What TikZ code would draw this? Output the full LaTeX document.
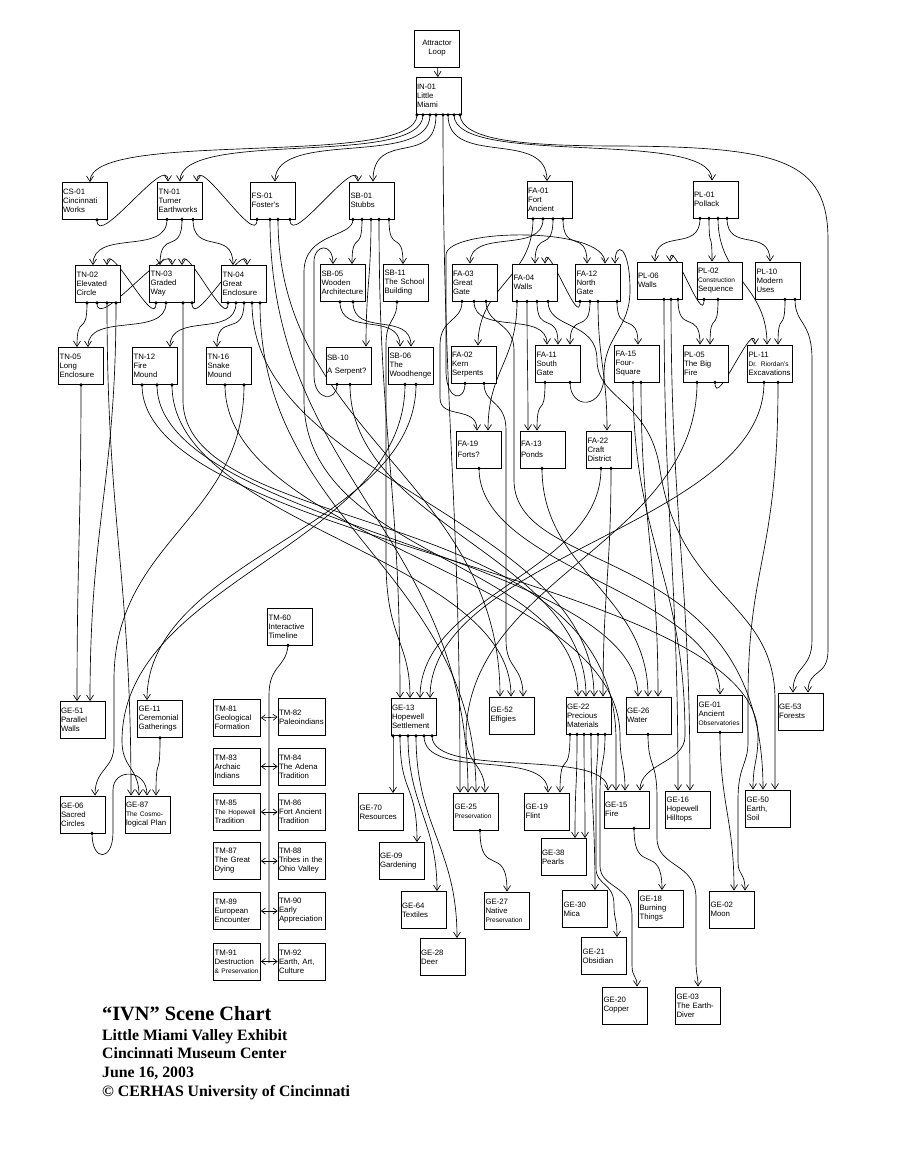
\documentclass[tikz,border=0pt]{standalone}
\usepackage{fontspec}
\setmainfont{Liberation Sans}
\newfontfamily\footfont{Liberation Serif}
\usetikzlibrary{arrows.meta,calc}
\pgfdeclarelayer{bg}
\pgfsetlayers{bg,main}
\newcommand\sm{\fontsize{6.6}{9}\selectfont}
\newcommand\lnk[4]{%
 \begin{pgfonlayer}{bg}
 \draw[conn] let \p1=(#2,0 |- #1.south), \p2=(#4,0 |- #3.north), \n2={abs(\y1-(\y2))}, \n1={max(0.45*\n2,min(0.8*\n2,60),26)} in (\p1) .. controls +(0pt,-\n1) and +(0pt,\n1) .. (\p2);
 \end{pgfonlayer}
 \fill (#2,0 |- #1.south) circle (1.7pt);}
\newcommand\lnkv[7]{%
 \begin{pgfonlayer}{bg}
 \draw[conn] (#2,0 |- #1.south) .. controls (#2,{#3+0.45*(#6-55-#3)}) and (#7,{#6-55-0.45*(#6-55-#3)}) .. (#7,{#6-55}) .. controls (#7,{#6-28}) and (#5,{#6-28}) .. (#5,0 |- #4.north);
 \end{pgfonlayer}
 \fill (#2,0 |- #1.south) circle (1.7pt);}
\newcommand\cpath[3]{%
 \begin{pgfonlayer}{bg}\draw[conn] (#2,0 |- #1.south) #3;\end{pgfonlayer}%
 \fill (#2,0 |- #1.south) circle (1.7pt);}
\tikzset{
 box/.style={draw, line width=0.8pt, fill=white, minimum width=45pt, minimum height=37pt,
   text width=43pt, inner xsep=1pt, inner ysep=1pt, align=left, font=\fontsize{7.8}{9}\selectfont},
 tmbox/.style={box, minimum width=47pt, text width=45pt},
 conn/.style={line width=0.65pt, -{Straight Barb[length=5.5pt,width=7pt]}},
 tml/.style={line width=0.65pt},
 dbl/.style={line width=0.65pt, {Straight Barb[length=4pt,width=6pt]}-{Straight Barb[length=4pt,width=6pt]}},
 foot/.style={anchor=base west, inner sep=0pt, font=\footfont\bfseries\fontsize{15.8}{18.7}\selectfont}
}
\begin{document}
\begin{tikzpicture}[x=1pt,y=-1pt]
\useasboundingbox (0,0) rectangle (900,1166);
\begin{pgfonlayer}{bg}\fill[white] (0,0) rectangle (900,1166);\end{pgfonlayer}

% ---------- nodes ----------
\node[box,align=center] (ATT) at (437,48.5) {Attractor\\Loop};
\node[box] (IN01) at (438.5,96) {IN-01\\Little\\Miami};
\node[box] (CS01) at (84.5,201) {CS-01\\Cincinnati\\Works};
\node[box] (TN01) at (180,200.5) {TN-01\\Turner\\Earthworks};
\node[box] (FS01) at (273,200.5) {FS-01\\Foster's};
\node[box] (SB01) at (372,200.5) {SB-01\\Stubbs};
\node[box] (FA01) at (549.5,200) {FA-01\\Fort\\Ancient};
\node[box] (PL01) at (715.5,199.5) {PL-01\\Pollack};

\node[box] (TN02) at (98,284) {TN-02\\Elevated\\Circle};
\node[box] (TN03) at (172,284) {TN-03\\Graded\\Way};
\node[box] (TN04) at (244,284) {TN-04\\Great\\Enclosure};
\node[box] (SB05) at (343,283) {SB-05\\Wooden\\Architecture};
\node[box] (SB11) at (406,283) {SB-11\\The School\\Building};
\node[box] (FA03) at (474.5,282.5) {FA-03\\Great\\Gate};
\node[box] (FA04) at (535,282.5) {FA-04\\Walls};
\node[box] (FA12) at (598,282.5) {FA-12\\North\\Gate};
\node[box] (PL06) at (659.5,280.5) {PL-06\\Walls};
\node[box] (PL02) at (719.5,280.5) {PL-02\\{\sm Construction}\\Sequence};
\node[box] (PL10) at (778,280.5) {PL-10\\Modern\\Uses};

\node[box] (TN05) at (81,366) {TN-05\\Long\\Enclosure};
\node[box] (TN12) at (155,366) {TN-12\\Fire\\Mound};
\node[box] (TN16) at (229,366) {TN-16\\Snake\\Mound};
\node[box] (SB10) at (348.5,365.5) {SB-10\\[4pt]A Serpent?};
\node[box] (SB06) at (411,365.5) {SB-06\\The\\Woodhenge};
\node[box] (FA02) at (473.5,364.5) {FA-02\\Kern\\Serpents};
\node[box] (FA11) at (558,363.5) {FA-11\\South\\Gate};
\node[box] (FA15) at (637,363.5) {FA-15\\Four-\\Square};
\node[box] (PL05) at (705.5,363.5) {PL-05\\The Big\\Fire};
\node[box] (PL11) at (770,363.5) {PL-11\\{\sm Dr. Riordan's}\\Excavations};

\node[box] (FA19) at (479,449.5) {FA-19\\[2pt]Forts?};
\node[box] (FA13) at (542.5,449.5) {FA-13\\[2pt]Ponds};
\node[box] (FA22) at (609,449.5) {FA-22\\Craft\\District};

\node[box] (TM60) at (290,626.5) {TM-60\\Interactive\\Timeline};

\node[box] (GE51) at (82.5,720) {GE-51\\Parallel\\Walls};
\node[box] (GE11) at (160,719) {GE-11\\Ceremonial\\Gatherings};
\node[box] (GE13) at (413.5,717) {GE-13\\Hopewell\\Settlement};
\node[box] (GE52) at (512,715.5) {GE-52\\Effigies};
\node[box] (GE22) at (588.5,715.5) {GE-22\\Precious\\Materials};
\node[box] (GE26) at (648.5,715.5) {GE-26\\Water};
\node[box] (GE01) at (720,713.5) {GE-01\\Ancient\\{\sm Observatories}};
\node[box] (GE53) at (800.5,711.5) {GE-53\\Forests};

\node[tmbox] (TM81) at (237,718) {TM-81\\Geological\\Formation};
\node[tmbox] (TM82) at (301.5,717) {TM-82\\Paleoindians};
\node[tmbox] (TM83) at (237,766.5) {TM-83\\Archaic\\Indians};
\node[tmbox] (TM84) at (301.5,766.5) {TM-84\\The Adena\\Tradition};
\node[tmbox] (TM85) at (237,812) {TM-85\\{\sm The Hopewell}\\Tradition};
\node[tmbox] (TM86) at (301.5,812) {TM-86\\Fort Ancient\\Tradition};
\node[tmbox] (TM87) at (237,861) {TM-87\\The Great\\Dying};
\node[tmbox] (TM88) at (301.5,861) {TM-88\\Tribes in the\\Ohio Valley};
\node[tmbox] (TM89) at (237,911) {TM-89\\European\\Encounter};
\node[tmbox] (TM90) at (301.5,911) {TM-90\\Early\\Appreciation};
\node[tmbox] (TM91) at (237,961.5) {TM-91\\Destruction\\{\sm \& Preservation}};
\node[tmbox] (TM92) at (301.5,961.5) {TM-92\\Earth, Art,\\Culture};

\node[box] (GE06) at (82.5,814.5) {GE-06\\Sacred\\Circles};
\node[box] (GE87) at (147.5,814.5) {GE-87\\{\sm The Cosmo-}\\logical Plan};
\node[box] (GE70) at (381,812) {GE-70\\Resources};
\node[box] (GE25) at (476,811.5) {GE-25\\{\sm Preservation}};
\node[box] (GE19) at (547,811.5) {GE-19\\Flint};
\node[box] (GE15) at (626.5,809.5) {GE-15\\Fire};
\node[box] (GE16) at (688,809.5) {GE-16\\Hopewell\\Hilltops};
\node[box] (GE50) at (768,808.5) {GE-50\\Earth,\\Soil};
\node[box] (GE09) at (401.5,861) {GE-09\\Gardening};
\node[box] (GE38) at (563.5,857) {GE-38\\Pearls};
\node[box] (GE64) at (423.5,910) {GE-64\\Textiles};
\node[box] (GE27) at (507,910.5) {GE-27\\Native\\{\sm Preservation}};
\node[box] (GE30) at (585,909) {GE-30\\Mica};
\node[box] (GE18) at (661,909) {GE-18\\Burning\\Things};
\node[box] (GE02) at (732,909.5) {GE-02\\Moon};
\node[box] (GE28) at (442.5,957) {GE-28\\Deer};
\node[box] (GE21) at (604,956) {GE-21\\Obsidian};
\node[box] (GE20) at (625,1005.5) {GE-20\\Copper};
\node[box] (GE03) at (698,1005.5) {GE-03\\The Earth-\\Diver};

% ---------- footer ----------
\node[anchor=base west, inner sep=0pt, font=\footfont\bfseries\fontsize{20.3}{24}\selectfont] (TTL) at (102,1020) {“IVN” Scene Chart};
\node[foot] (F1) at (102,1040) {Little Miami Valley Exhibit};
\node[foot] (F2) at (102,1058.7) {Cincinnati Museum Center};
\node[foot] (F3) at (102,1077.4) {June 16, 2003};
\node[foot] (F4) at (102,1096.1) {© CERHAS University of Cincinnati};

% ---------- connectors ----------
\begin{pgfonlayer}{bg}\draw[conn] (ATT) -- (IN01);\end{pgfonlayer}
\lnk{IN01}{417}{CS01}{90}
\lnk{IN01}{423}{TN01}{180}
\lnk{IN01}{430}{FS01}{275}
\lnk{IN01}{436}{SB01}{373}
\lnk{IN01}{443}{GE25}{460}
\lnk{IN01}{448}{FA01}{547}
\lnk{IN01}{454}{PL01}{712}
\cpath{IN01}{460}{.. controls (462,140) and (520,146) .. (620,146) .. controls (780,147) and (828,160) .. (828,240) -- (828,650) .. controls (828,678) and (808,668) .. (808,0 |- GE53.north)}

\lnk{CS01}{97}{TN01}{168}
\lnk{FS01}{257}{TN01}{197}
\lnk{FS01}{270}{GE25}{468}
\lnk{FS01}{278}{GE52}{500}
\lnk{FS01}{290}{SB01}{358}

\cpath{SB01}{353}{.. controls (353,238) and (304,232) .. (304,272) -- (304,400) .. controls (304,560) and (578,560) .. (578,0 |- GE22.north)}
\lnk{SB01}{362}{SB05}{352}
\lnk{SB01}{371}{SB10}{366}
\lnk{SB01}{379}{GE13}{400}
\lnk{SB01}{389}{SB11}{403}
\lnk{SB05}{340}{SB06}{400}
\lnk{SB05}{353}{SB06}{411}
\cpath{SB10}{337}{.. controls (337,402) and (314,402) .. (314,375) -- (314,262) .. controls (314,244) and (333,242) .. (333,0 |- SB05.north)}
\lnk{SB10}{350}{GE22}{586}
\cpath{SB11}{397}{.. controls (397,322) and (386,318) .. (386,345) -- (386,560) .. controls (386,640) and (410,640) .. (410,0 |- GE13.north)}
\lnkv{SB06}{405}{384}{GE87}{139}{796}{122}
\lnk{SB06}{416}{GE11}{147}

\lnk{TN01}{167}{TN02}{93}
\lnk{TN01}{182}{TN03}{160}
\lnk{TN01}{193}{TN04}{233}
\lnk{TN02}{87}{TN05}{77}
\lnk{TN02}{97}{TN03}{172}
\lnk{TN02}{107}{GE87}{131}
\lnk{TN02}{116}{GE51}{90}
\lnk{TN03}{156}{TN02}{107}
\lnk{TN03}{166}{TN05}{88}
\cpath{TN03}{183}{-- (183,400) .. controls (183,540) and (616,500) .. (616,740) -- (616,0 |- GE15.north)}
\lnk{TN03}{192}{TN04}{247}
\lnk{TN04}{228}{TN03}{182}
\lnk{TN04}{236}{TN12}{170}
\lnk{TN04}{244}{TN16}{217}
\lnk{TN04}{252}{GE22}{594}
\lnk{TN04}{260}{GE25}{476}
\lnk{TN05}{81}{GE51}{77}
\lnkv{TN12}{142}{384}{GE50}{753}{790}{758}
\lnk{TN12}{157}{GE26}{638}
\lnk{TN12}{172}{GE52}{511}
\lnkv{TN16}{225}{384}{GE15}{625}{791}{620}
\cpath{TN16}{244}{.. controls (244,520) and (114,540) .. (114,680) -- (114,745) .. controls (114,770) and (95,768) .. (95,0 |- GE06.north)}

\lnk{FA01}{533}{FA02}{478}
\lnk{FA01}{543}{FA03}{470}
\lnk{FA01}{553}{FA04}{535}
\lnk{FA01}{563}{FA12}{587}
\cpath{FA03}{462}{.. controls (462,322) and (440,318) .. (440,345) -- (440,398) .. controls (440,420) and (477,405) .. (477,0 |- FA19.north)}
\lnk{FA03}{474}{FA11}{547}
\cpath{FA03}{486}{.. controls (486,325) and (514,322) .. (514,350) -- (514,480) .. controls (514,580) and (763,540) .. (763,0 |- GE50.north)}
\lnk{FA04}{517}{FA19}{488}
\lnk{FA04}{527}{FA13}{528}
\lnk{FA04}{537}{FA11}{558}
\cpath{FA04}{548}{.. controls (548,330) and (597,320) .. (597,360) .. controls (597,400) and (650,400) .. (660,470) .. controls (680,600) and (775,600) .. (775,700) -- (775,0 |- GE50.north)}
\lnk{FA12}{580}{FA04}{545}
\lnk{FA12}{590}{FA11}{570}
\lnk{FA12}{598}{FA22}{607}
\lnk{FA12}{617}{FA15}{638}
\cpath{FA02}{465}{.. controls (465,402) and (446,402) .. (446,370) -- (446,255) .. controls (446,228) and (605,226) .. (605,0 |- FA12.north)}
\cpath{FA02}{484}{.. controls (484,405) and (506,400) .. (506,430) -- (506,640) .. controls (506,670) and (523,665) .. (523,0 |- GE52.north)}
\lnk{FA11}{545}{FA13}{537}
\cpath{FA11}{570}{.. controls (570,410) and (604,410) .. (604,375) .. controls (604,335) and (630,330) .. (630,290) .. controls (630,245) and (615,240) .. (615,0 |- FA12.north)}
\lnkv{FA15}{633}{383}{GE15}{640}{791}{685}
\lnk{FA15}{641}{GE26}{658}
\lnk{FA19}{479}{GE01}{720}
\lnk{FA13}{542}{GE26}{648}
\lnk{FA22}{601}{GE13}{420}
\lnk{FA22}{611}{GE22}{603}

\lnk{PL01}{700}{PL06}{655}
\lnk{PL01}{709}{PL02}{712}
\lnk{PL01}{718}{PL11}{767}
\lnk{PL01}{727}{PL10}{770}
\lnk{PL02}{704}{PL06}{670}
\lnk{PL02}{718}{PL05}{710}
\lnk{PL06}{664}{GE16}{678}
\lnk{PL06}{671}{GE16}{690}
\lnk{PL06}{678}{PL05}{700}
\lnkv{PL05}{697}{383}{GE25}{485}{792}{466}
\lnk{PL05}{715}{PL11}{755}
\lnk{PL10}{785}{PL11}{778}
\cpath{PL10}{795}{.. controls (795,325) and (812,320) .. (812,360) -- (812,640) .. controls (812,670) and (793,665) .. (793,0 |- GE53.north)}
\lnk{PL11}{764}{GE13}{430}
\cpath{PL11}{778}{.. controls (778,560) and (748,560) .. (748,700) -- (748,742) .. controls (748,765) and (738,765) .. (738,800) -- (738,862) .. controls (738,876) and (745,872) .. (745,0 |- GE02.north)}

\lnk{GE13}{393}{GE70}{393}
\lnk{GE13}{400}{GE09}{417}
\lnk{GE13}{408}{GE64}{437}
\lnk{GE13}{416}{GE28}{457}
\lnk{GE13}{424}{GE19}{548}
\lnk{GE13}{432}{GE15}{608}
\lnk{GE22}{570}{GE19}{560}
\lnk{GE22}{577}{GE38}{575}
\lnk{GE22}{584}{GE38}{585}
\lnk{GE22}{591}{GE30}{595}
\cpath{GE22}{598}{.. controls (598,765) and (596,760) .. (596,795) -- (596,868) .. controls (596,886) and (614,882) .. (614,905) .. controls (614,920) and (617,918) .. (617,0 |- GE21.north)}
\cpath{GE22}{605}{.. controls (605,765) and (600,760) .. (600,795) -- (600,866) .. controls (600,888) and (632,885) .. (632,915) -- (632,965) .. controls (632,978) and (637,975) .. (637,0 |- GE20.north)}
\lnk{GE25}{480}{GE27}{507}
\cpath{GE26}{648}{.. controls (648,768) and (657,760) .. (657,798) -- (657,838) .. controls (657,868) and (696,862) .. (696,898) -- (696,962) .. controls (696,975) and (698,975) .. (698,0 |- GE03.north)}
\lnk{GE15}{634}{GE18}{662}
\lnk{GE01}{720}{GE02}{734}
\lnk{GE11}{160}{GE87}{156}
\cpath{GE06}{92}{.. controls (92,862) and (113,862) .. (113,832) -- (113,790) .. controls (113,768) and (147,768) .. (147,0 |- GE87.north)}

% timeline
\begin{pgfonlayer}{bg}
\draw[tml] (288,0 |- TM60.south) .. controls (286,668) and (269,665) .. (269,695) -- (269,963);
\end{pgfonlayer}
\fill (288,0 |- TM60.south) circle (1.7pt);
\draw[dbl] (TM81.east) -- (TM82.west);
\draw[dbl] (TM83.east) -- (TM84.west);
\draw[dbl] (TM85.east) -- (TM86.west);
\draw[dbl] (TM87.east) -- (TM88.west);
\draw[dbl] (TM89.east) -- (TM90.west);
\draw[dbl] (TM91.east) -- (TM92.west);
\end{tikzpicture}
\end{document}
